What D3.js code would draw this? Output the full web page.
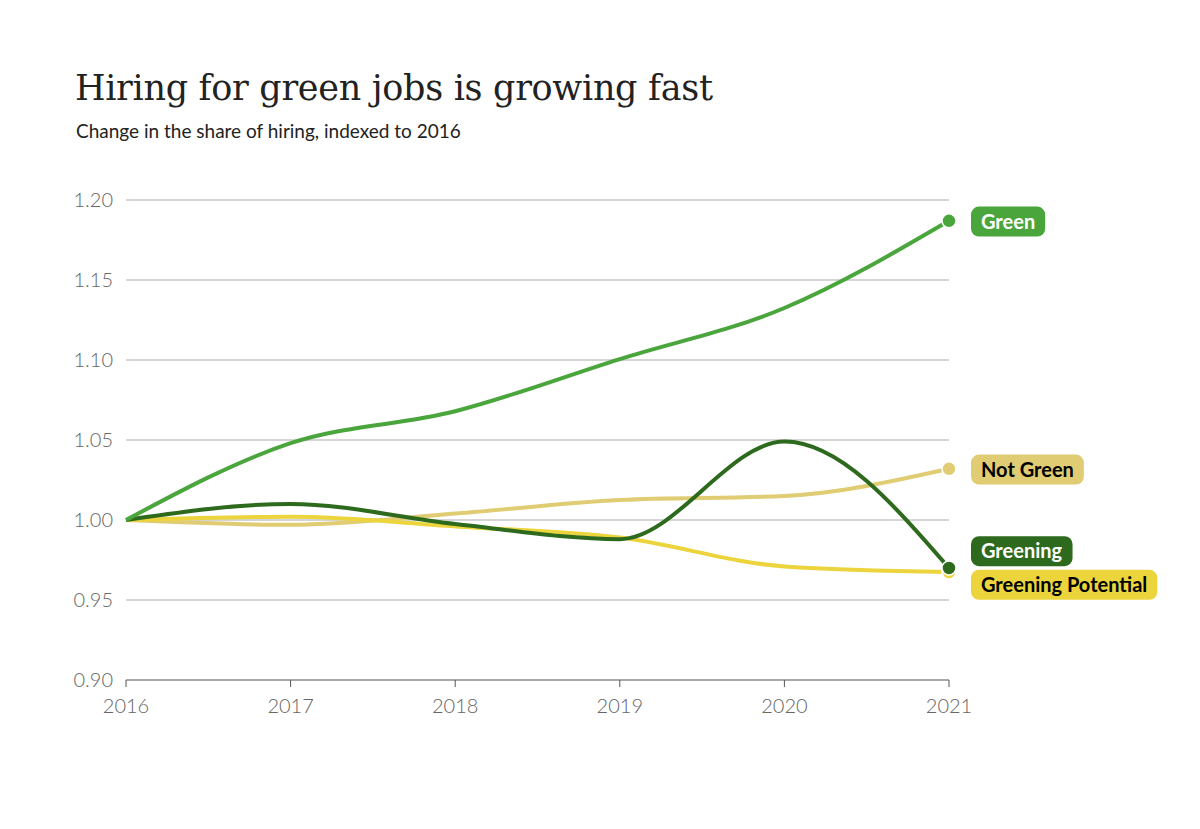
<!DOCTYPE html>
<html><head><meta charset="utf-8">
<script src="https://cdn.jsdelivr.net/npm/d3@7"></script>
<style>body{margin:0;background:#fff}</style>
</head><body>
<script>
const years = [2016, 2017, 2018, 2019, 2020, 2021];
const yTicks = [0.90, 0.95, 1.00, 1.05, 1.10, 1.15, 1.20];
const seriesNames = ["Not Green", "Greening Potential", "Greening", "Green"];
const notGreen = [1.000, 0.997, 1.004, 1.0125, 1.015, 1.032];
const greeningPotential = [1.000, 1.002, 0.996, 0.989, 0.971, 0.9675];
const greening = [1.000, 1.010, 0.9975, 0.988, 1.049, 0.970];
const green = [1.000, 1.048, 1.068, 1.1006, 1.1325, 1.187];
const colors = ["#e0cc72", "#ecd43c", "#2e6a1e", "#4aa63c"];
const textColors = ["#000", "#000", "#fff", "#fff"];
const labelY = [1.0315, 0.9595, 0.9805, 1.1865];
const values = [notGreen, greeningPotential, greening, green];

const W = 1200, H = 829;
const svg = d3.select("body").append("svg").attr("width", W).attr("height", H);

const x = d3.scaleLinear().domain([2016, 2021]).range([126, 949]);
const y = d3.scaleLinear().domain([0.90, 1.20]).range([680, 200]);

svg.append("text").attr("x", 75).attr("y", 100)
  .attr("font-family", "DejaVu Serif").attr("font-size", 35).attr("letter-spacing", -0.3)
  .attr("fill", "#222").text("Hiring for green jobs is growing fast");
svg.append("text").attr("x", 76).attr("y", 138)
  .attr("font-family", "Lato").attr("font-size", 19).attr("fill", "#222")
  .text("Change in the share of hiring, indexed to 2016");

// grid
svg.selectAll("line.grid").data(yTicks).enter().append("line")
  .attr("x1", x(2016)).attr("x2", x(2021))
  .attr("y1", d => y(d)).attr("y2", d => y(d))
  .attr("stroke", d => d === 0.90 ? "#555" : "#aaa").attr("stroke-width", 1);
svg.selectAll("text.yt").data(yTicks).enter().append("text")
  .attr("x", 113).attr("y", d => y(d) + 7).attr("text-anchor", "end")
  .attr("font-family", "Lato").attr("font-weight", 300).attr("font-size", 20).attr("fill", "#666")
  .text(d => d.toFixed(2));
svg.selectAll("text.xt").data(years).enter().append("text")
  .attr("x", d => x(d)).attr("y", 713).attr("text-anchor", "middle")
  .attr("font-family", "Lato").attr("font-weight", 300).attr("font-size", 20).attr("fill", "#666")
  .text(d => d);
svg.selectAll("line.xtk").data(years).enter().append("line")
  .attr("x1", d => x(d)).attr("x2", d => x(d)).attr("y1", 680).attr("y2", 687)
  .attr("stroke", "#555");

const line = d3.line().x((d, i) => x(years[i])).y(d => y(d)).curve(d3.curveMonotoneX);

values.forEach((vals, k) => {
  svg.append("path").attr("d", line(vals)).attr("fill", "none")
    .attr("stroke", colors[k]).attr("stroke-width", 4).attr("stroke-linejoin", "round");
  svg.append("circle").attr("cx", x(2021)).attr("cy", y(vals[5])).attr("r", 7)
    .attr("fill", colors[k]).attr("stroke", "#fff").attr("stroke-width", 1.5);
  const g = svg.append("g");
  const t = g.append("text").attr("x", 981).attr("y", y(labelY[k]) + 7)
    .attr("font-family", "Lato").attr("font-weight", 700).attr("font-size", 20)
    .attr("fill", textColors[k]).text(seriesNames[k]);
  const bb = t.node().getBBox();
  g.insert("rect", "text").attr("x", bb.x - 10).attr("y", y(labelY[k]) - 15)
    .attr("width", bb.width + 20).attr("height", 30).attr("rx", 8).attr("fill", colors[k]);
});
</script>
</body></html>
